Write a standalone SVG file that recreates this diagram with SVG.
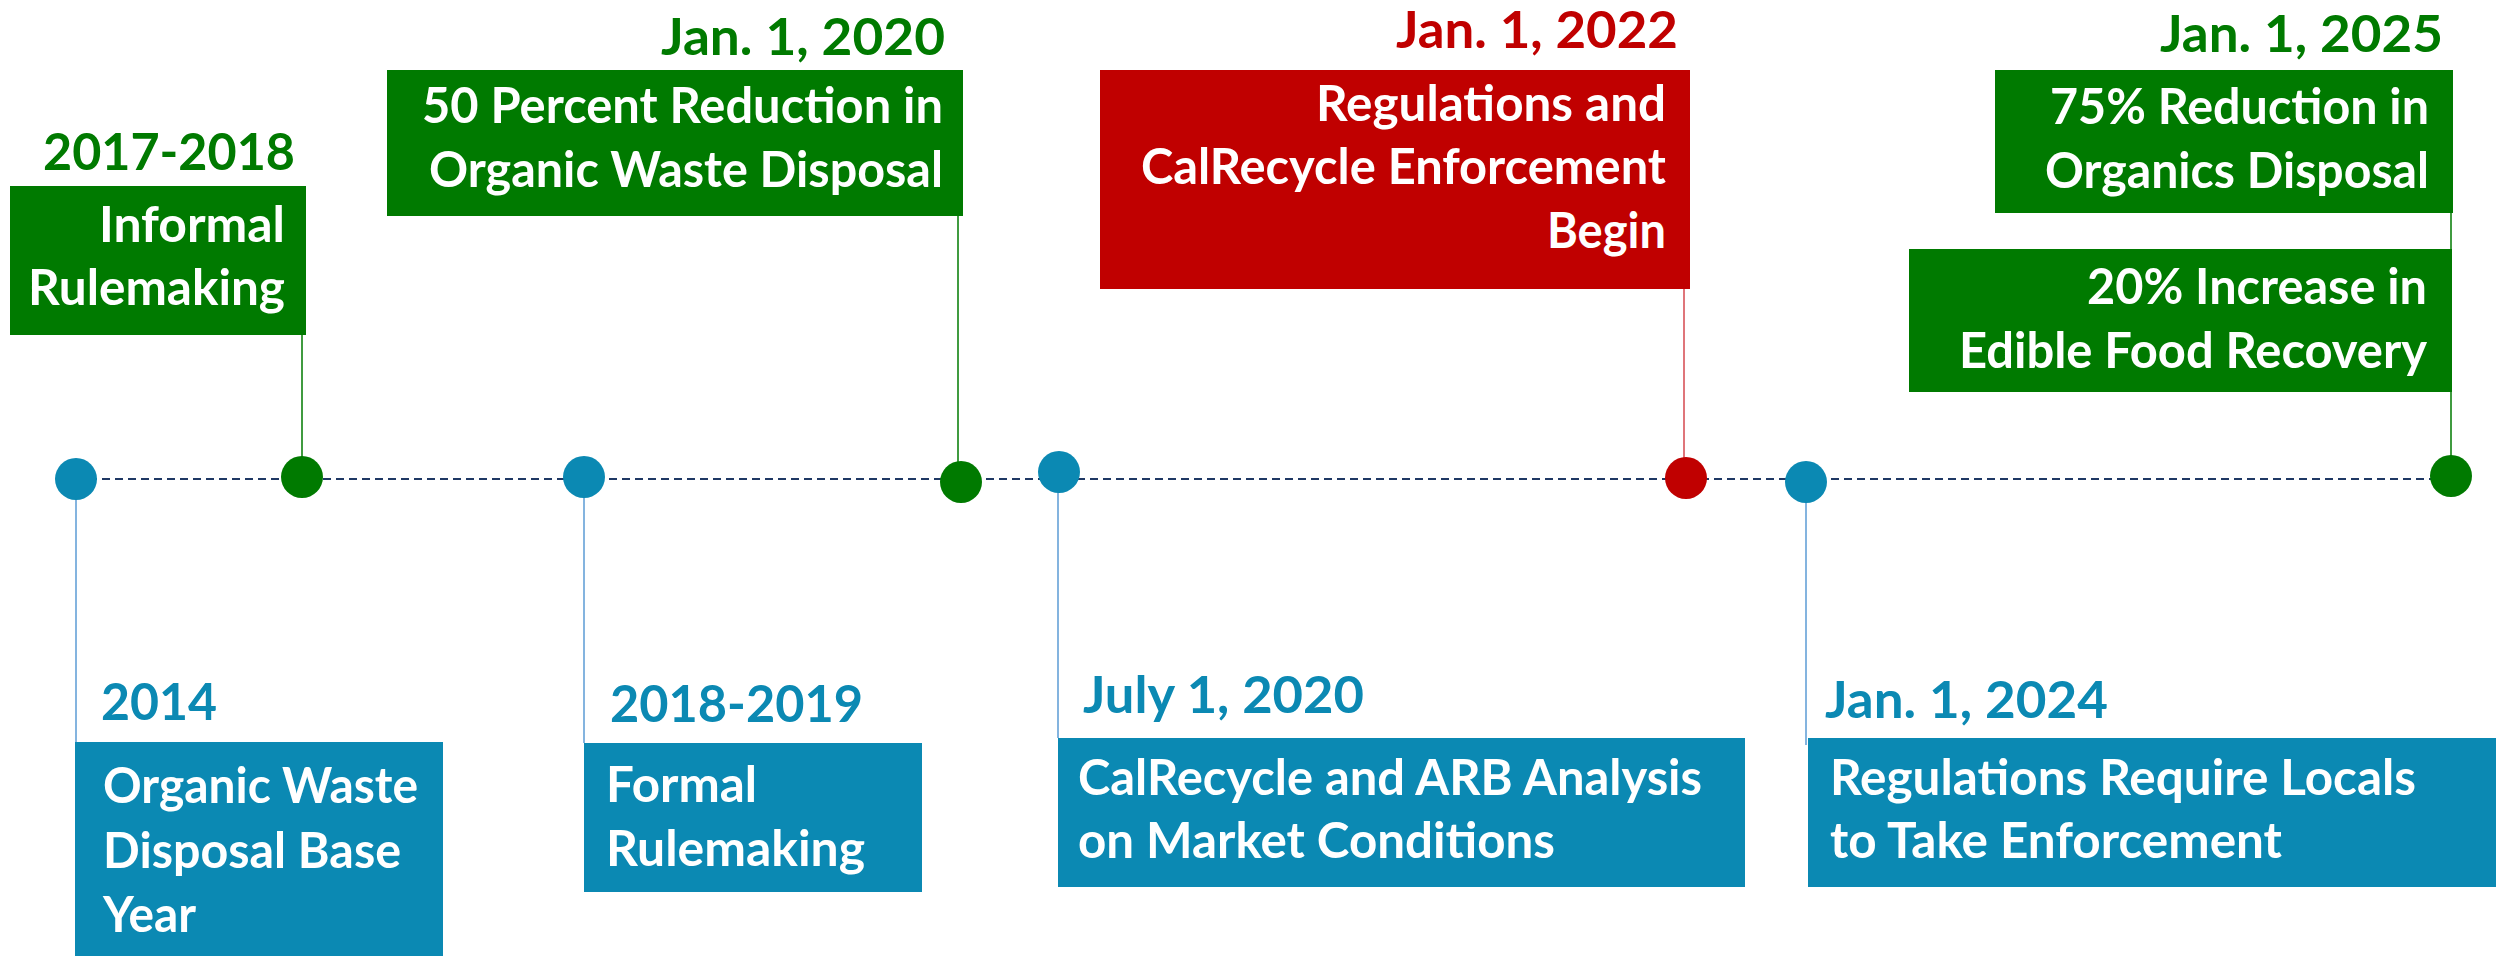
<svg xmlns="http://www.w3.org/2000/svg" width="2496" height="956" viewBox="0 0 2496 956">
<style>
.bg{fill:#ffffff}
.g{fill:#007a00}
.b{fill:#0b89b3}
.r{fill:#c00000}
.t{font-family:Lato,"Liberation Sans",sans-serif;font-weight:bold;font-size:49px;fill:#ffffff}
.h{font-family:Lato,"Liberation Sans",sans-serif;font-weight:bold;font-size:52px}
.end{text-anchor:end}
.lg{stroke:#007a00;stroke-width:1.5;fill:none}
.lb{stroke:#5b9bd5;stroke-width:1.5;fill:none}
.lr{stroke:#d5474e;stroke-width:1.5;fill:none}
.axis{stroke:#1f3864;stroke-width:1.8;stroke-dasharray:8 5;fill:none}
</style>
<rect class="bg" x="0" y="0" width="2496" height="956"/>
<g id="connectors">
<line class="axis" x1="76" y1="479" x2="2451" y2="479"/>
<line class="lb" x1="76" y1="479" x2="76" y2="742"/>
<line class="lg" x1="302" y1="335" x2="302" y2="477"/>
<line class="lb" x1="584" y1="477" x2="584" y2="743"/>
<line class="lg" x1="958" y1="216" x2="958" y2="482"/>
<line class="lb" x1="1058" y1="472" x2="1058" y2="738"/>
<line class="lr" x1="1684" y1="289" x2="1684" y2="478"/>
<line class="lb" x1="1806" y1="482" x2="1806" y2="745"/>
<line class="lg" x1="2451" y1="213" x2="2451" y2="476"/>
</g>
<g id="n-2014">
<circle class="b" cx="76" cy="479" r="21"/>
<text class="h b" x="101" y="720" textLength="116" lengthAdjust="spacingAndGlyphs">2014</text>
<rect class="b" x="75" y="742" width="368" height="214"/>
<text class="t" x="103" y="803" textLength="315" lengthAdjust="spacingAndGlyphs">Organic Waste</text>
<text class="t" x="103" y="868" textLength="298" lengthAdjust="spacingAndGlyphs">Disposal Base</text>
<text class="t" x="103" y="932" textLength="93" lengthAdjust="spacingAndGlyphs">Year</text>
</g>
<g id="n-2017">
<circle class="g" cx="302" cy="477" r="21"/>
<text class="h g end" x="295" y="170" textLength="252" lengthAdjust="spacingAndGlyphs">2017-2018</text>
<rect class="g" x="10" y="186" width="296" height="149"/>
<text class="t end" x="285" y="242" textLength="186" lengthAdjust="spacingAndGlyphs">Informal</text>
<text class="t end" x="285" y="305" textLength="257" lengthAdjust="spacingAndGlyphs">Rulemaking</text>
</g>
<g id="n-2018">
<circle class="b" cx="584" cy="477" r="21"/>
<text class="h b" x="610" y="722" textLength="253" lengthAdjust="spacingAndGlyphs">2018-2019</text>
<rect class="b" x="584" y="743" width="338" height="149"/>
<text class="t" x="606" y="802" textLength="151" lengthAdjust="spacingAndGlyphs">Formal</text>
<text class="t" x="606" y="866" textLength="259" lengthAdjust="spacingAndGlyphs">Rulemaking</text>
</g>
<g id="n-2020">
<circle class="g" cx="961" cy="482" r="21"/>
<text class="h g end" x="945" y="55" textLength="284" lengthAdjust="spacingAndGlyphs">Jan. 1, 2020</text>
<rect class="g" x="387" y="70" width="576" height="146"/>
<text class="t end" x="943" y="123" textLength="521" lengthAdjust="spacingAndGlyphs">50 Percent Reduction in</text>
<text class="t end" x="943" y="187" textLength="514" lengthAdjust="spacingAndGlyphs">Organic Waste Disposal</text>
</g>
<g id="n-2020b">
<circle class="b" cx="1059" cy="472" r="21"/>
<text class="h b" x="1083" y="713" textLength="281" lengthAdjust="spacingAndGlyphs">July 1, 2020</text>
<rect class="b" x="1058" y="738" width="687" height="149"/>
<text class="t" x="1078" y="795" textLength="624" lengthAdjust="spacingAndGlyphs">CalRecycle and ARB Analysis</text>
<text class="t" x="1078" y="858" textLength="477" lengthAdjust="spacingAndGlyphs">on Market Conditions</text>
</g>
<g id="n-2022">
<circle class="r" cx="1686" cy="478" r="21"/>
<text class="h r end" x="1678" y="48" textLength="282" lengthAdjust="spacingAndGlyphs">Jan. 1, 2022</text>
<rect class="r" x="1100" y="70" width="590" height="219"/>
<text class="t end" x="1666" y="121" textLength="350" lengthAdjust="spacingAndGlyphs">Regulations and</text>
<text class="t end" x="1666" y="184" textLength="525" lengthAdjust="spacingAndGlyphs">CalRecycle Enforcement</text>
<text class="t end" x="1666" y="248" textLength="119" lengthAdjust="spacingAndGlyphs">Begin</text>
</g>
<g id="n-2024">
<circle class="b" cx="1806" cy="482" r="21"/>
<text class="h b" x="1825" y="718" textLength="283" lengthAdjust="spacingAndGlyphs">Jan. 1, 2024</text>
<rect class="b" x="1808" y="738" width="688" height="149"/>
<text class="t" x="1830" y="795" textLength="586" lengthAdjust="spacingAndGlyphs">Regulations Require Locals</text>
<text class="t" x="1830" y="858" textLength="452" lengthAdjust="spacingAndGlyphs">to Take Enforcement</text>
</g>
<g id="n-2025">
<circle class="g" cx="2451" cy="476" r="21"/>
<text class="h g end" x="2443" y="52" textLength="283" lengthAdjust="spacingAndGlyphs">Jan. 1, 2025</text>
<rect class="g" x="1995" y="70" width="458" height="143"/>
<text class="t end" x="2429" y="124" textLength="379" lengthAdjust="spacingAndGlyphs">75% Reduction in</text>
<text class="t end" x="2429" y="188" textLength="384" lengthAdjust="spacingAndGlyphs">Organics Disposal</text>
<rect class="g" x="1909" y="249" width="543" height="143"/>
<text class="t end" x="2427" y="304" textLength="340" lengthAdjust="spacingAndGlyphs">20% Increase in</text>
<text class="t end" x="2427" y="368" textLength="468" lengthAdjust="spacingAndGlyphs">Edible Food Recovery</text>
</g>
</svg>
